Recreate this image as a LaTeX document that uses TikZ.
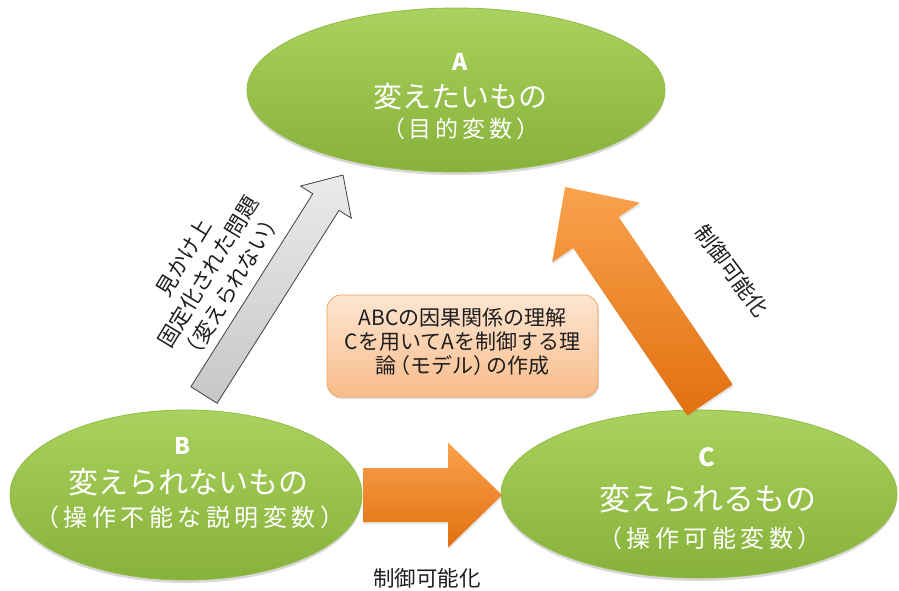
\documentclass[tikz,border=0pt]{standalone}
\usepackage{fontspec}
\setmainfont{Noto Sans CJK JP}
\usetikzlibrary{calc,shapes.geometric,shadows}
\definecolor{gtop}{HTML}{AAD25E}
\definecolor{gbot}{HTML}{86B13A}
\definecolor{grim}{HTML}{93BB47}
\definecolor{otop}{HTML}{F9A24D}
\definecolor{obot}{HTML}{E2700F}
\definecolor{btop}{HTML}{FDE6D2}
\definecolor{bbot}{HTML}{F9BC8A}
\definecolor{bdraw}{HTML}{F3A461}
\definecolor{txt}{HTML}{1E1E1E}
\newcommand\gapx[1][4pt]{\hspace{#1}}
% tail, tip, shaft half width, head half width, head length, style
\newcommand\myblockarrow[6]{%
  \coordinate (hb) at ($(#2)!#5!(#1)$);
  \path[#6] ($(#1)!#3!90:(#2)$) -- ($(hb)!#3!-90:(#1)$) -- ($(hb)!#4!-90:(#1)$)
    -- (#2) -- ($(hb)!#4!90:(#1)$) -- ($(hb)!#3!90:(#1)$) -- ($(#1)!#3!-90:(#2)$) -- cycle;}
\begin{document}
\begin{tikzpicture}[x=1pt,y=-1pt,
  ell/.style={ellipse, inner sep=0pt, top color=gtop, bottom color=gbot, draw=grim, line width=0.8pt,
    drop shadow={shadow xshift=0pt, shadow yshift=-3pt, opacity=0.3}},
  wlet/.style={text=white, inner sep=0pt, font=\fontsize{23}{26}\selectfont\bfseries},
  wmain/.style={text=white, inner sep=0pt, font=\fontsize{29}{33}\selectfont},
  wpar/.style={text=white, inner sep=0pt, font=\fontsize{23}{27}\selectfont},
  lab/.style={text=txt, inner sep=0pt, align=center, font=\fontsize{21.5}{28}\selectfont},
  oarrow/.style={top color=otop, bottom color=obot, draw=none,
    drop shadow={shadow xshift=1pt, shadow yshift=-2pt, opacity=0.2}},
  garrow/.style={top color=black!8, bottom color=black!22, draw=black!75, line width=0.8pt, line join=miter},
  boxst/.style={rounded corners=14pt, top color=btop, bottom color=bbot, draw=bdraw, line width=0.8pt,
    minimum width=271pt, minimum height=102pt, inner sep=0pt,
    drop shadow={shadow xshift=1pt, shadow yshift=-2pt, opacity=0.25}}
]
\useasboundingbox (0,0) rectangle (899,590);
\fill[white] (0,0) rectangle (899,590);

% ellipses
\node[ell, minimum width=418pt, minimum height=164pt] (A) at (456,90) {};
\node[ell, minimum width=352pt, minimum height=170pt] (B) at (186,495) {};
\node[ell, minimum width=396pt, minimum height=168pt] (C) at (699,494) {};

% ellipse texts
\node[wlet] (A1) at (460,62) {A};
\node[wmain] (A2) at (460,97) {変えたいもの};
\node[wpar] (A3) at (461,129) {（\gapx 目\gapx 的\gapx 変\gapx 数\gapx ）};

\node[wlet] (B1) at (182,446) {B};
\node[wmain, font=\fontsize{30}{33}\selectfont] (B2) at (188,482) {変えられないもの};
\node[wpar, font=\fontsize{24}{27}\selectfont] (B3) at (190,517) {（\gapx[4.5pt]操\gapx[4.5pt]作\gapx[4.5pt]不\gapx[4.5pt]能\gapx[4.5pt]な\gapx[4.5pt]説\gapx[4.5pt]明\gapx[4.5pt]変\gapx[4.5pt]数\gapx[4.5pt]）};

\node[wlet, font=\fontsize{25}{28}\selectfont\bfseries] (C1) at (707,457) {C};
\node[wmain, font=\fontsize{31}{34}\selectfont] (C2) at (708,499) {変えられるもの};
\node[wpar, font=\fontsize{24}{27}\selectfont] (C3) at (710,538) {（\gapx[4.5pt]操\gapx[4.5pt]作\gapx[4.5pt]可\gapx[4.5pt]能\gapx[4.5pt]変\gapx[4.5pt]数\gapx[4.5pt]）};

% centre box
\node[boxst] (box) at (462.5,346) {};
\node[lab, font=\fontsize{21}{24}\selectfont] (boxt) at (462.5,342) {ABCの因果関係の理解\\Cを用いてAを制御する理\\論\kern-0.35em（モデル）\kern-0.35em の作成};

% arrows
\coordinate (gT) at (204,395);
\coordinate (gH) at (343,175);
\myblockarrow{gT}{gH}{15.5pt}{30pt}{32pt}{garrow}

\coordinate (caT) at (710,400);
\coordinate (caH) at (565,187);
\myblockarrow{caT}{caH}{27.5pt}{53pt}{55pt}{oarrow}

\coordinate (bcT) at (363,495);
\coordinate (bcH) at (502,495);
\myblockarrow{bcT}{bcH}{27pt}{52.5pt}{54pt}{oarrow}

% labels
\node[lab, rotate=58.7] (lg) at (208,272) {見かけ上\\固定化された問題\\（変えられない）};
\node[lab, rotate=-53.5] (lr) at (732,271) {制御可能化};
\node[lab] (lb) at (427,578) {制御可能化};
\end{tikzpicture}
\end{document}
